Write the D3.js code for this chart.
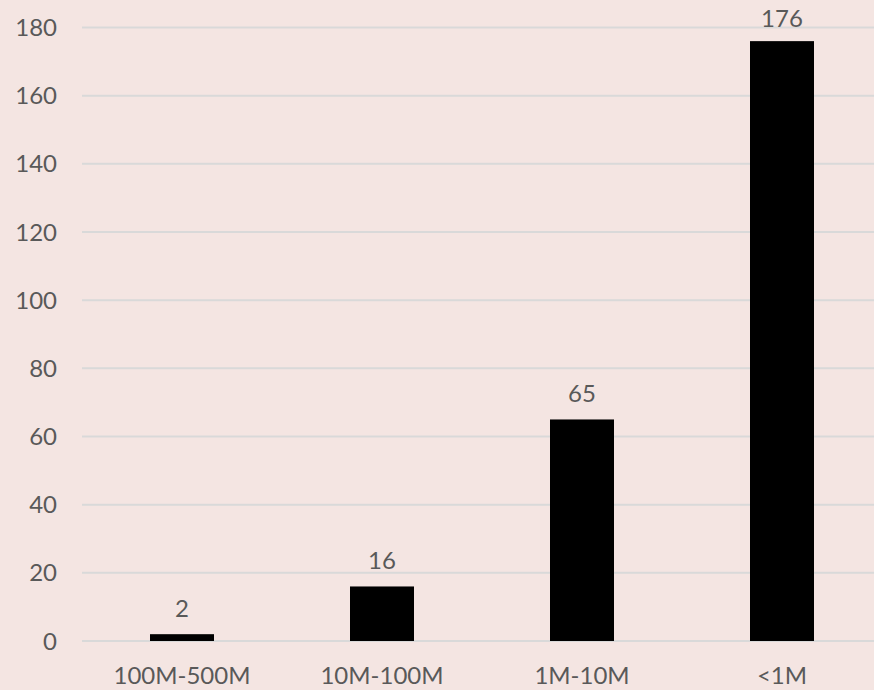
<!DOCTYPE html>
<html lang="en">
  <head>
    <meta charset="utf-8" />
    <title>Bar chart</title>
    <script src="https://cdn.jsdelivr.net/npm/d3@7"></script>
    <style>
      body { margin: 0; background: #f4e5e2; }
      text { font-family: Lato, "Open Sans", sans-serif; fill: #595959; }
    </style>
  </head>
  <body>
    <script>
      var categories = ["100M-500M", "10M-100M", "1M-10M", "<1M"];
      var counts = [2, 16, 65, 176];
      var yTicks = [0, 20, 40, 60, 80, 100, 120, 140, 160, 180];

      var width = 874, height = 690;
      var plotLeft = 82, plotRight = 882, plotTop = 27.5, plotBottom = 641;

      var svg = d3.select("body").append("svg")
        .attr("width", width)
        .attr("height", height);

      var x = d3.scaleBand().domain(categories).range([plotLeft, plotRight]).paddingInner(0.68).paddingOuter(0.34);
      var y = d3.scaleLinear().domain([0, 180]).range([plotBottom, plotTop]);

      // gridlines
      svg.selectAll(".grid")
        .data(yTicks)
        .enter()
        .append("line")
        .attr("x1", plotLeft)
        .attr("x2", width)
        .attr("y1", function (d) { return y(d); })
        .attr("y2", function (d) { return y(d); })
        .attr("stroke", "#d9d9d9")
        .attr("stroke-width", 2);

      svg.selectAll(".ytick")
        .data(yTicks)
        .enter()
        .append("text")
        .attr("x", 57)
        .attr("y", function (d) { return y(d); })
        .attr("dy", "0.36em")
        .attr("text-anchor", "end")
        .attr("font-size", 24)
        .text(function (d) { return d; });

      svg.selectAll(".bar")
        .data(counts)
        .enter()
        .append("rect")
        .attr("x", function (d, i) { return x(categories[i]); })
        .attr("width", x.bandwidth())
        .attr("y", function (d) { return y(d); })
        .attr("height", function (d) { return y(0) - y(d); })
        .attr("fill", "#000");

      // value labels, kept inside the top edge
      svg.selectAll(".val")
        .data(counts)
        .enter()
        .append("text")
        .attr("x", function (d, i) { return x(categories[i]) + x.bandwidth() / 2; })
        .attr("y", function (d) { return Math.max(y(d) - 17, 27); })
        .attr("text-anchor", "middle")
        .attr("font-size", 24)
        .text(function (d) { return d; });

      svg.selectAll(".xlab")
        .data(categories)
        .enter()
        .append("text")
        .attr("x", function (d) { return x(d) + x.bandwidth() / 2; })
        .attr("y", 684)
        .attr("text-anchor", "middle")
        .attr("font-size", 24)
        .text(function (d) { return d; });
    </script>
  </body>
</html>
